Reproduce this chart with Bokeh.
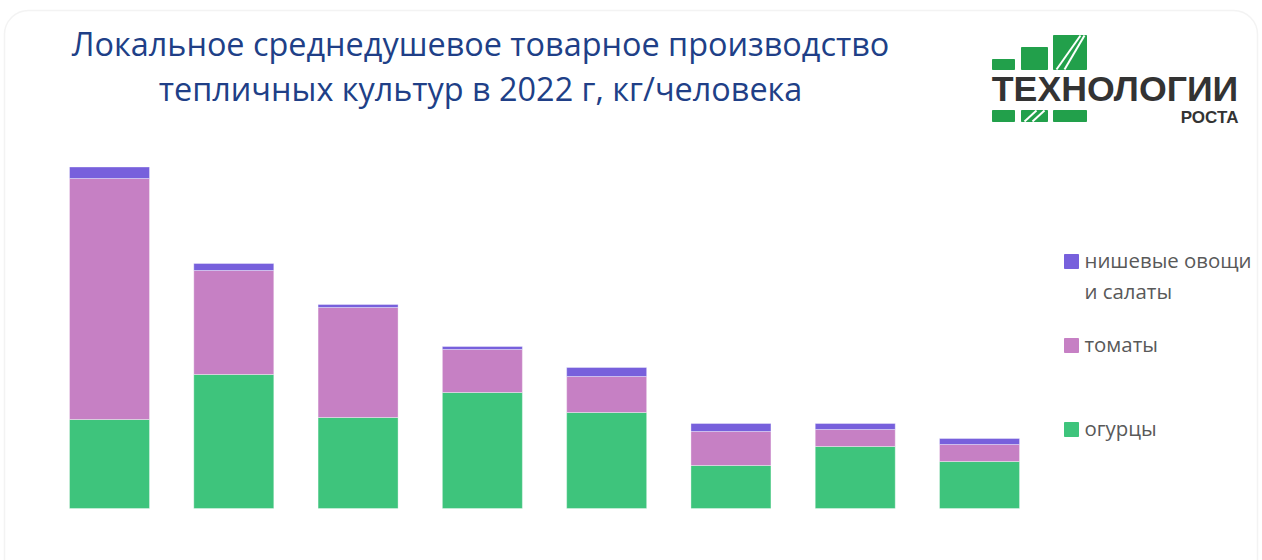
from bokeh.plotting import figure
from bokeh.models import Range1d, BoxAnnotation, Label, ColumnDataSource
from bokeh.embed import file_html
from bokeh.resources import INLINE

# ---- data (kg per person) ----
bar_index = [0, 1, 2, 3, 4, 5, 6, 7]
cucumbers = [8.9, 13.4, 9.1, 11.6, 9.6, 4.3, 6.2, 4.7]
tomatoes = [24.1, 10.4, 11.0, 4.3, 3.6, 3.4, 1.7, 1.7]
niche = [1.15, 0.7, 0.3, 0.3, 0.9, 0.8, 0.6, 0.6]
series_names = ["огурцы", "томаты", "нишевые овощи\nи салаты"]
title_lines = ["Локальное среднедушевое товарное производство",
               "тепличных культур в 2022 г, кг/человека"]

GREEN = "#3ec47c"
PINK = "#c680c4"
PURPLE = "#7760dc"

W, H = 1262, 560
PXU = 124.29  # pixels per category step
p = figure(width=W, height=H, output_backend="svg", toolbar_location=None,
           x_range=Range1d(-109 / PXU, (W - 109) / PXU),
           y_range=Range1d(50.8 - H / 10.0, 50.8),
           x_axis_location=None, y_axis_location=None,
           min_border=0, min_border_left=0, min_border_right=0,
           min_border_top=0, min_border_bottom=0)
p.outline_line_color = None
p.grid.visible = False
p.background_fill_color = "white"
p.border_fill_color = "white"

# pixel coordinate system for decorations
p.extra_x_ranges = {"px": Range1d(0, W)}
p.extra_y_ranges = {"px": Range1d(H, 0)}


def text(x, y, s, size, color, font="Open Sans", align="left", style="normal", k=0.4):
    # y is the wanted baseline; compensate the label's own offset
    p.add_layout(Label(x=x, y=y - k * size, x_range_name="px", y_range_name="px",
                       text=s, text_align=align, text_baseline="alphabetic",
                       text_font=font, text_font_style=style,
                       text_font_size=f"{size}px", text_color=color))


# card border
p.add_layout(BoxAnnotation(left=4, right=1257, top=10, bottom=640,
                           x_range_name="px", y_range_name="px",
                           fill_color=None, fill_alpha=0,
                           line_color="#d6d6d6", line_width=1.5,
                           border_radius=24, level="underlay"))

src = ColumnDataSource(dict(x=bar_index, cucumbers=cucumbers,
                            tomatoes=tomatoes, niche=niche))
p.vbar_stack(["cucumbers", "tomatoes", "niche"], x="x", width=80 / PXU,
             color=[GREEN, PINK, PURPLE], line_color="white", line_alpha=0.35,
             line_width=1, source=src)

# title
TITLE_COLOR = "#203f87"
for txt, yb in zip(title_lines, [55, 100]):
    text(480, yb, txt, 32.4, TITLE_COLOR, align="center")

# legend (manual)
leg_colors = [PURPLE, PINK, GREEN]
leg_text = [series_names[2], series_names[1], series_names[0]]
leg_sq_top = [254, 338, 422]
for c, t, top in zip(leg_colors, leg_text, leg_sq_top):
    p.quad(left=[1064], right=[1078], top=[top], bottom=[top + 14], color=c,
           x_range_name="px", y_range_name="px")
    for i, ln in enumerate(t.split("\n")):
        text(1084, top + 14 + i * 31, ln, 20.4, "#595959")

# logo
LOGO_G = "#22a04b"
p.quad(left=[992, 1021, 1053, 992, 1021, 1053],
       right=[1014, 1047, 1086, 1014, 1047, 1086],
       top=[59, 47, 35, 110, 110, 110],
       bottom=[69, 69, 69, 121, 121, 121],
       color=LOGO_G, x_range_name="px", y_range_name="px")
p.segment(x0=[1056, 1064, 1024, 1032], y0=[69, 69, 121, 121],
          x1=[1080, 1084, 1036, 1044], y1=[35, 35, 110, 110],
          line_color="white", line_width=2, x_range_name="px", y_range_name="px")
text(1114.5, 97, "ТЕХНОЛОГИИ", 35.7, "#333333", font="Liberation Sans",
     align="center", style="bold", k=0.25)
text(1238, 122, "РОСТА", 17, "#333333", font="Liberation Sans",
     align="right", style="bold", k=0.3)

open("out.html", "w").write(file_html(p, INLINE))
